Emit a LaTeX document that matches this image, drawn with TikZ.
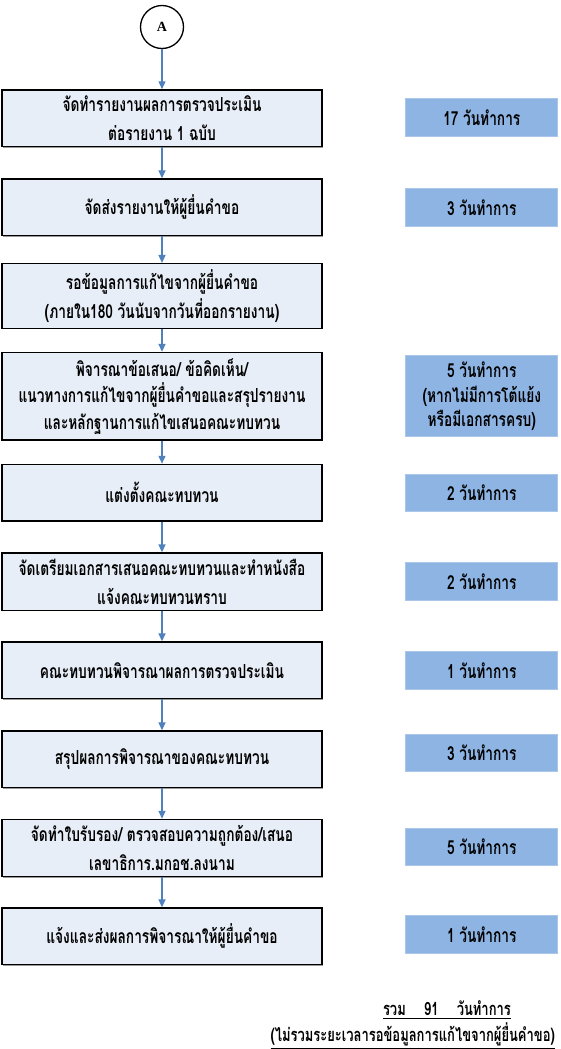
\documentclass[tikz,border=0pt]{standalone}
\usepackage{fontspec}
\newfontfamily\thaifont[Script=Thai,FakeStretch=0.71]{Loma}
\newfontfamily\latinfont{Liberation Serif}
\usetikzlibrary{arrows.meta,shadows}
\definecolor{boxfill}{HTML}{E8EEF7}
\definecolor{dayfill}{HTML}{8EB4E3}
\definecolor{flowblue}{HTML}{4F81BD}
\tikzset{
  stepbox/.style={draw=black, line width=0.9pt, fill=boxfill, minimum width=6.41cm, minimum height=1.13cm,
    align=center, font=\thaifont\bfseries\fontsize{11}{16.5}\selectfont,
    drop shadow={shadow xshift=0.6pt, shadow yshift=-0.6pt, fill=black, opacity=0.4}},
  daybox/.style={fill=dayfill, draw=dayfill!75!white, line width=0.5pt, minimum width=3.04cm, minimum height=0.75cm,
    align=center, font=\thaifont\bfseries\fontsize{11}{14}\selectfont},
  totalnote/.style={font=\thaifont\bfseries\fontsize{10.4}{12}\selectfont, anchor=east, inner sep=1pt},
  flow/.style={-{Triangle[length=4.5pt,width=4pt]}, draw=flowblue, line width=0.7pt}
}
\begin{document}
\begin{tikzpicture}[x=0.02cm, y=-0.02cm]
          \useasboundingbox (0,0) rectangle (561,1049);
          \node[draw, circle, line width=0.75pt, fill=white, minimum size=0.86cm, font=\latinfont\bfseries\fontsize{8}{9}\selectfont] (Start) at (162,27) {A};

          \node[stepbox] (Report) at (162,118.3) {จัดทำรายงานผลการตรวจประเมิน\\ต่อรายงาน 1 ฉบับ};
          \node[stepbox] (Deliver) at (162,207.3) {จัดส่งรายงานให้ผู้ยื่นคำขอ};
          \node[stepbox] (Wait) at (162,296) {รอข้อมูลการแก้ไขจากผู้ยื่นคำขอ\\(ภายใน180 วันนับจากวันที่ออกรายงาน)};
          \node[stepbox, minimum height=1.59cm, font=\thaifont\bfseries\fontsize{11}{15}\selectfont] (Consider) at (162,396.3) {พิจารณาข้อเสนอ/ ข้อคิดเห็น/\\แนวทางการแก้ไขจากผู้ยื่นคำขอและสรุปรายงาน\\และหลักฐานการแก้ไขเสนอคณะทบทวน};
          \node[stepbox] (Appoint) at (162,492.7) {แต่งตั้งคณะทบทวน};
          \node[stepbox] (Prepare) at (162,581.7) {จัดเตรียมเอกสารเสนอคณะทบทวนและทำหนังสือ\\แจ้งคณะทบทวนทราบ};
          \node[stepbox] (Review) at (162,670.3) {คณะทบทวนพิจารณาผลการตรวจประเมิน};
          \node[stepbox] (Summary) at (162,759.3) {สรุปผลการพิจารณาของคณะทบทวน};
          \node[stepbox] (Certify) at (162,848) {จัดทำใบรับรอง/ ตรวจสอบความถูกต้อง/เสนอ\\เลขาธิการ.มกอช.ลงนาม};
          \node[stepbox] (Notify) at (162,936.3) {แจ้งและส่งผลการพิจารณาให้ผู้ยื่นคำขอ};

          \node[daybox] (ReportDays) at (481.8,117.5) {17 วันทำการ};
          \node[daybox] (DeliverDays) at (481.8,207.2) {3 วันทำการ};
          \node[daybox, minimum height=1.41cm] (ConsiderDays) at (481.8,396.2) {5 วันทำการ\\(หากไม่มีการโต้แย้ง\\หรือมีเอกสารครบ)};
          \node[daybox] (AppointDays) at (481.8,492.9) {2 วันทำการ};
          \node[daybox] (PrepareDays) at (481.8,581.5) {2 วันทำการ};
          \node[daybox] (ReviewDays) at (481.8,670.5) {1 วันทำการ};
          \node[daybox] (SummaryDays) at (481.8,752.9) {3 วันทำการ};
          \node[daybox] (CertifyDays) at (481.8,847) {5 วันทำการ};
          \node[daybox] (NotifyDays) at (481.8,934.2) {1 วันทำการ};

          \node[totalnote] (Total) at (513,1010) {\underline{รวม\quad 91\quad วันทำการ}};
          \node[totalnote] (TotalNote) at (557,1036) {\underline{(ไม่รวมระยะเวลารอข้อมูลการแก้ไขจากผู้ยื่นคำขอ)}};

          \draw[flow] (Start) to (Report);
          \draw[flow] (Report) to (Deliver);
          \draw[flow] (Deliver) to (Wait);
          \draw[flow] (Wait) to (Consider);
          \draw[flow] (Consider) to (Appoint);
          \draw[flow] (Appoint) to (Prepare);
          \draw[flow] (Prepare) to (Review);
          \draw[flow] (Review) to (Summary);
          \draw[flow] (Summary) to (Certify);
          \draw[flow] (Certify) to (Notify);
        \end{tikzpicture}
\end{document}
